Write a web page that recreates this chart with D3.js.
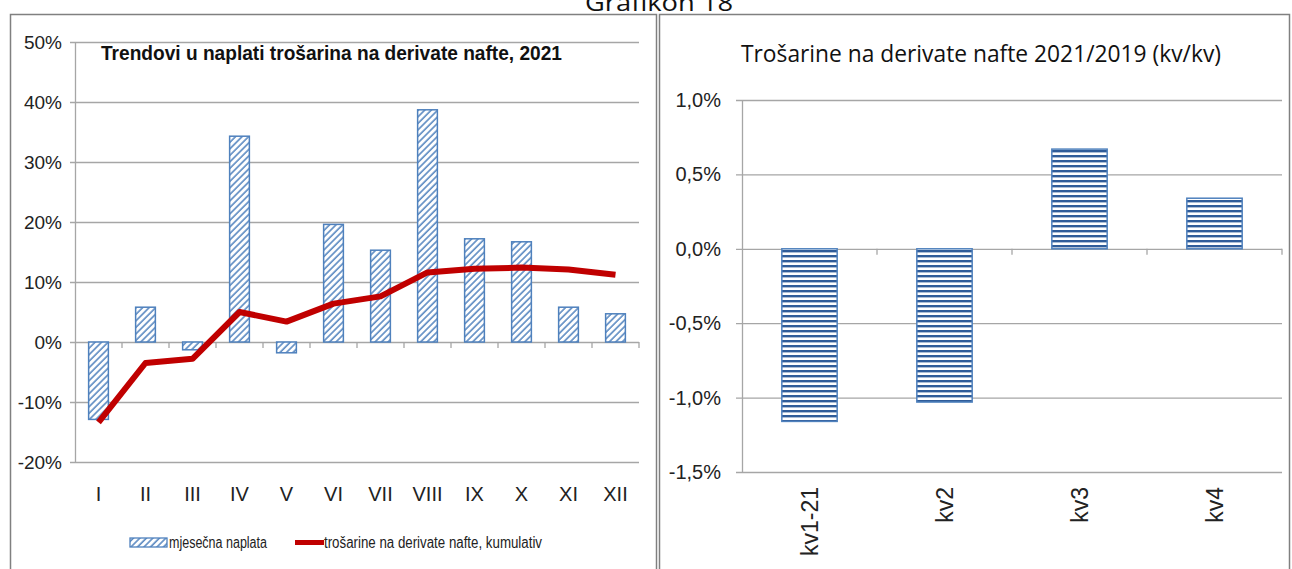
<!DOCTYPE html>
<html>
<head>
<meta charset="utf-8">
<script src="https://cdn.jsdelivr.net/npm/d3@7"></script>
<style>
  html, body { margin: 0; padding: 0; background: #fff; }
  svg { display: block; }
</style>
</head>
<body>
<script>
// left chart: monthly collection vs cumulative, 2021 (%)
const months = ["I", "II", "III", "IV", "V", "VI", "VII", "VIII", "IX", "X", "XI", "XII"];
const monthly = [-12.9, 5.8, -1.3, 34.3, -1.8, 19.6, 15.3, 38.7, 17.2, 16.7, 5.8, 4.7];
const cumulative = [-13.4, -3.5, -2.8, 5.0, 3.4, 6.4, 7.6, 11.6, 12.2, 12.4, 12.1, 11.2];
const leftTicks = [-20, -10, 0, 10, 20, 30, 40, 50];

// right chart: quarters 2021/2019 (%)
const quarters = ["kv1-21", "kv2", "kv3", "kv4"];
const quarterly = [-1.16, -1.03, 0.67, 0.34];
const rightTicks = [-1.5, -1.0, -0.5, 0, 0.5, 1.0];

const width = 1292, height = 569;
const narrow = "'Liberation Sans Narrow', 'Arial Narrow', 'Liberation Sans', sans-serif";
const gridColor = "#a6a6a6";
const barBlue = "#4f81bd";

const svg = d3.select("body").append("svg")
    .attr("width", width)
    .attr("height", height)
    .attr("viewBox", [0, 0, width, height]);

const defs = svg.append("defs");

const diag = defs.append("pattern")
    .attr("id", "diag")
    .attr("patternUnits", "userSpaceOnUse")
    .attr("width", 4.6)
    .attr("height", 4.6)
    .attr("patternTransform", "rotate(45)");
diag.append("rect").attr("width", 4.6).attr("height", 4.6).attr("fill", "#fff");
diag.append("line")
    .attr("x1", 1).attr("y1", 0).attr("x2", 1).attr("y2", 4.6)
    .attr("stroke", barBlue).attr("stroke-width", 1.5);

const stripes = defs.append("pattern")
    .attr("id", "stripes")
    .attr("patternUnits", "userSpaceOnUse")
    .attr("width", 10)
    .attr("height", 5);
stripes.append("rect").attr("width", 10).attr("height", 5).attr("fill", "#fff");
stripes.append("rect").attr("y", 0).attr("width", 10).attr("height", 2.4).attr("fill", "#2f5c99");

// title on top, partly cut by the window edge as in the source
svg.append("text")
    .attr("x", 659)
    .attr("y", 11)
    .attr("text-anchor", "middle")
    .attr("font-family", "'Open Sans', sans-serif")
    .attr("font-size", 23)
    .attr("textLength", 148)
    .attr("lengthAdjust", "spacingAndGlyphs")
    .attr("fill", "#111")
    .text("Grafikon 18");

// panel frames
svg.append("rect")
    .attr("x", 10.5).attr("y", 14.5)
    .attr("width", 646).attr("height", 570)
    .attr("fill", "none").attr("stroke", "#808080").attr("stroke-width", 1.5);
svg.append("rect")
    .attr("x", 659.5).attr("y", 14.5)
    .attr("width", 630).attr("height", 570)
    .attr("fill", "none").attr("stroke", "#808080").attr("stroke-width", 1.5);

// ---------- left chart ----------
const xL = d3.scaleBand(months, [75, 639]);
const yL = d3.scaleLinear([-20, 50], [462, 42]);
const bwL = xL.bandwidth();
const barWL = bwL * 0.42;

const left = svg.append("g");

left.append("g")
    .attr("transform", "translate(75,0)")
    .call(d3.axisLeft(yL).tickValues(leftTicks).tickSize(-(639 - 75)).tickSizeOuter(0)
        .tickPadding(13).tickFormat(d => d + "%"))
    .call(g => g.selectAll(".tick line").attr("x1", -5).attr("stroke", gridColor).attr("stroke-width", 1.3))
    .call(g => g.select(".domain").attr("stroke", gridColor).attr("stroke-width", 1.3))
    .call(g => g.selectAll(".tick text")
        .attr("font-family", narrow).attr("font-size", 19).attr("fill", "#222"));

// category ticks on the zero line
left.append("g")
    .selectAll("line")
    .data(months)
    .join("line")
    .attr("x1", d => xL(d) + bwL)
    .attr("x2", d => xL(d) + bwL)
    .attr("y1", yL(0))
    .attr("y2", yL(0) + 6)
    .attr("stroke", gridColor)
    .attr("stroke-width", 1.3);

left.append("g")
    .attr("transform", `translate(0,${yL(-20)})`)
    .call(d3.axisBottom(xL).tickSize(0).tickPadding(25))
    .call(g => g.select(".domain").remove())
    .call(g => g.selectAll(".tick text")
        .attr("font-family", narrow).attr("font-size", 20).attr("fill", "#222"));

left.append("g")
    .selectAll("rect")
    .data(monthly)
    .join("rect")
    .attr("x", (d, i) => xL(months[i]) + (bwL - barWL) / 2)
    .attr("y", d => yL(Math.max(0, d)))
    .attr("width", barWL)
    .attr("height", d => Math.abs(yL(d) - yL(0)))
    .attr("fill", "url(#diag)")
    .attr("stroke", barBlue)
    .attr("stroke-width", 1.5);

const line = d3.line()
    .x((d, i) => xL(months[i]) + bwL / 2)
    .y(d => yL(d));

left.append("path")
    .attr("d", line(cumulative))
    .attr("fill", "none")
    .attr("stroke", "#c00000")
    .attr("stroke-width", 6)
    .attr("stroke-linejoin", "round");

left.append("text")
    .attr("x", 101)
    .attr("y", 60)
    .attr("font-family", narrow)
    .attr("font-weight", "bold")
    .attr("font-size", 21)
    .attr("textLength", 461)
    .attr("lengthAdjust", "spacingAndGlyphs")
    .attr("fill", "#111")
    .text("Trendovi u naplati trošarina na derivate nafte, 2021");

// legend
const legend = left.append("g").attr("font-family", narrow).attr("font-size", 16).attr("fill", "#222");
legend.append("rect")
    .attr("x", 130).attr("y", 538).attr("width", 37).attr("height", 9)
    .attr("fill", "url(#diag)").attr("stroke", barBlue).attr("stroke-width", 1.3);
legend.append("text").attr("x", 169).attr("y", 548)
    .attr("textLength", 98).attr("lengthAdjust", "spacingAndGlyphs")
    .text("mjesečna naplata");
legend.append("line")
    .attr("x1", 295).attr("x2", 324).attr("y1", 542.5).attr("y2", 542.5)
    .attr("stroke", "#c00000").attr("stroke-width", 5);
legend.append("text").attr("x", 324).attr("y", 548)
    .attr("textLength", 218).attr("lengthAdjust", "spacingAndGlyphs")
    .text("trošarine na derivate nafte, kumulativ");

// ---------- right chart ----------
const xR = d3.scaleBand(quarters, [742, 1282]);
const yR = d3.scaleLinear([-1.5, 1.0], [472, 100]);
const bwR = xR.bandwidth();
const barWR = bwR * 0.41;
const fmtR = d => (d < 0 ? "-" : "") + Math.abs(d).toFixed(1).replace(".", ",") + "%";

const right = svg.append("g");

right.append("g")
    .attr("transform", "translate(742,0)")
    .call(d3.axisLeft(yR).tickValues(rightTicks).tickSize(-(1282 - 742)).tickSizeOuter(0)
        .tickPadding(21).tickFormat(fmtR))
    .call(g => g.selectAll(".tick line").attr("x1", -6).attr("stroke", gridColor).attr("stroke-width", 1.3))
    .call(g => g.select(".domain").attr("stroke", gridColor).attr("stroke-width", 1.3))
    .call(g => g.selectAll(".tick text")
        .attr("font-family", narrow).attr("font-size", 20).attr("fill", "#222"));

right.append("g")
    .selectAll("line")
    .data(quarters)
    .join("line")
    .attr("x1", d => xR(d) + bwR)
    .attr("x2", d => xR(d) + bwR)
    .attr("y1", yR(0))
    .attr("y2", yR(0) + 6)
    .attr("stroke", gridColor)
    .attr("stroke-width", 1.3);

right.append("g")
    .attr("transform", `translate(0,${yR(-1.5)})`)
    .call(d3.axisBottom(xR).tickSize(0))
    .call(g => g.select(".domain").remove())
    .call(g => g.selectAll(".tick text")
        .attr("transform", "rotate(-90)")
        .attr("x", -15)
        .attr("y", 0)
        .attr("dy", "0.35em")
        .attr("text-anchor", "end")
        .attr("font-family", "'Liberation Sans', Arial, sans-serif")
        .attr("font-size", 23)
        .attr("fill", "#222"));

right.append("g")
    .selectAll("rect")
    .data(quarterly)
    .join("rect")
    .attr("x", (d, i) => xR(quarters[i]) + (bwR - barWR) / 2)
    .attr("y", d => yR(Math.max(0, d)))
    .attr("width", barWR)
    .attr("height", d => Math.abs(yR(d) - yR(0)))
    .attr("fill", "url(#stripes)")
    .attr("stroke", barBlue)
    .attr("stroke-width", 1.5);

right.append("text")
    .attr("x", 741)
    .attr("y", 62)
    .attr("font-family", "'Open Sans', sans-serif")
    .attr("font-size", 23)
    .attr("textLength", 480)
    .attr("lengthAdjust", "spacingAndGlyphs")
    .attr("fill", "#111")
    .text("Trošarine na derivate nafte 2021/2019 (kv/kv)");
</script>
</body>
</html>
